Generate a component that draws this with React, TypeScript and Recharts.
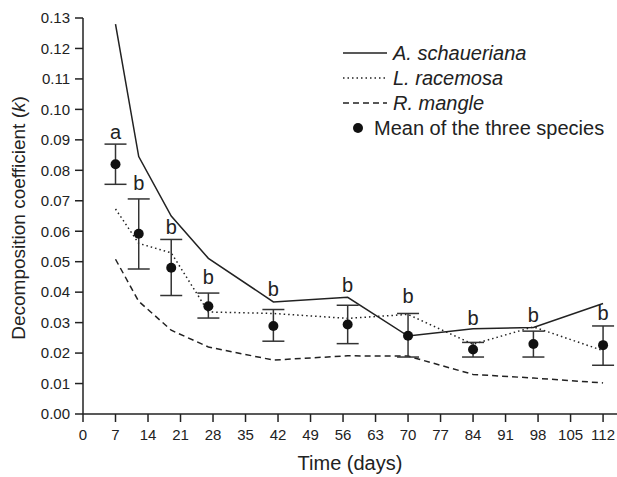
import React from "react";
import {
  ComposedChart,
  Line,
  Scatter,
  ErrorBar,
  XAxis,
  YAxis,
  Label,
} from "recharts";

const days = [7, 12, 19, 27, 41, 57, 70, 84, 97, 112];
const schaueriana = [0.128, 0.0845, 0.065, 0.0511, 0.0368, 0.0383, 0.0256, 0.028, 0.0284, 0.0363];
const racemosa = [0.0673, 0.056, 0.0529, 0.0335, 0.033, 0.0314, 0.0327, 0.0229, 0.0286, 0.0208];
const mangle = [0.0508, 0.037, 0.0275, 0.022, 0.0177, 0.0191, 0.019, 0.013, 0.0118, 0.0102];
const meanK = [0.082, 0.0592, 0.048, 0.0354, 0.0289, 0.0294, 0.0257, 0.0212, 0.023, 0.0226];
const meanLow = [0.0754, 0.0476, 0.0389, 0.0315, 0.0239, 0.0231, 0.0187, 0.0187, 0.0187, 0.016];
const meanHigh = [0.0886, 0.0706, 0.0573, 0.0397, 0.0343, 0.0357, 0.033, 0.0235, 0.0272, 0.0289];
const letters = ["a", "b", "b", "b", "b", "b", "b", "b", "b", "b"];
const letterY = [0.0903, 0.0735, 0.059, 0.0427, 0.0387, 0.0399, 0.0366, 0.0292, 0.0303, 0.0308];

const xTicks = [0, 7, 14, 21, 28, 35, 42, 49, 56, 63, 70, 77, 84, 91, 98, 105, 112];
const yTicks = [0, 0.01, 0.02, 0.03, 0.04, 0.05, 0.06, 0.07, 0.08, 0.09, 0.1, 0.11, 0.12, 0.13];

const data = days.map((day, i) => ({
  day,
  schaueriana: schaueriana[i],
  racemosa: racemosa[i],
  mangle: mangle[i],
  mean: meanK[i],
  err: [meanK[i] - meanLow[i], meanHigh[i] - meanK[i]],
  letter: letters[i],
  letterY: letterY[i],
}));

const FONT = "'Liberation Sans', Arial, sans-serif";
const INK = "#222";

function MeanDot(props: any) {
  const { cx, cy } = props;
  if (cx == null || cy == null) return null;
  return <circle cx={cx} cy={cy} r={5} fill="#111" />;
}

function LetterMark(props: any) {
  const { cx, cy, payload } = props;
  if (cx == null || cy == null) return null;
  return (
    <text x={cx} y={cy} textAnchor="middle" fontSize={20} fontFamily={FONT} fill={INK}>
      {payload.letter}
    </text>
  );
}

function YTitle(props: any) {
  const { viewBox } = props;
  const cy = viewBox.y + viewBox.height / 2 + 2;
  return (
    <text
      x={18}
      y={cy}
      transform={`rotate(-90, 18, ${cy})`}
      textAnchor="middle"
      dominantBaseline="central"
      fontSize={19}
      fontFamily={FONT}
      fill={INK}
    >
      Decomposition coefficient (<tspan fontStyle="italic">k</tspan>)
    </text>
  );
}

// legend drawn by hand, the recharts Legend reserves space below the plot
function SpeciesLegend() {
  const rows = [
    { name: "A. schaueriana", dash: undefined },
    { name: "L. racemosa", dash: "1.5 3" },
    { name: "R. mangle", dash: "6 4" },
  ];
  return (
    <svg width={277} height={100} style={{ position: "absolute", top: 41, left: 340 }}>
      {rows.map((r, i) => (
        <g key={r.name}>
          <line x1={3} x2={47} y1={12 + i * 25} y2={12 + i * 25} stroke={INK} strokeWidth={1.4} strokeDasharray={r.dash} />
          <text x={53} y={12 + i * 25} dominantBaseline="central" fontSize={20} fontStyle="italic" fontFamily={FONT} fill={INK}>
            {r.name}
          </text>
        </g>
      ))}
      <circle cx={18} cy={87} r={5} fill="#111" />
      <text x={34} y={87} dominantBaseline="central" fontSize={20} fontFamily={FONT} fill={INK}>
        Mean of the three species
      </text>
    </svg>
  );
}

export default function App() {
  return (
    <div style={{ position: "absolute", left: 0, top: 0, width: 617, height: 477, background: "#fff" }}>
      <ComposedChart
        width={617}
        height={477}
        data={data}
        margin={{ top: 18, right: 0, bottom: 0, left: 0 }}
      >
        <XAxis
          type="number"
          dataKey="day"
          domain={[0, 115]}
          ticks={xTicks}
          allowDataOverflow
          height={63}
          tickSize={8}
          tickMargin={7}
          stroke={INK}
          strokeWidth={1.5}
          tick={{ fontSize: 15, fill: INK, fontFamily: FONT }}
        >
          <Label
            value="Time (days)"
            position="insideBottom"
            offset={7}
            style={{ fontSize: 20, fill: INK, fontFamily: FONT }}
          />
        </XAxis>
        <YAxis
          type="number"
          domain={[0, 0.13]}
          ticks={yTicks}
          width={83}
          tickSize={8}
          tickMargin={5}
          stroke={INK}
          strokeWidth={1.5}
          tickFormatter={(v: number) => v.toFixed(2)}
          tick={{ fontSize: 15, fill: INK, fontFamily: FONT }}
        >
          <Label content={YTitle} />
        </YAxis>
        <Line dataKey="schaueriana" stroke={INK} strokeWidth={1.5} dot={false} isAnimationActive={false} />
        <Line dataKey="racemosa" stroke={INK} strokeWidth={1.5} strokeDasharray="1.5 3" dot={false} isAnimationActive={false} />
        <Line dataKey="mangle" stroke={INK} strokeWidth={1.5} strokeDasharray="6 4" dot={false} isAnimationActive={false} />
        <Scatter dataKey="mean" shape={MeanDot} isAnimationActive={false}>
          <ErrorBar dataKey="err" direction="y" width={11} stroke="#333" strokeWidth={1.5} />
        </Scatter>
        <Scatter dataKey="letterY" shape={LetterMark} isAnimationActive={false} />
      </ComposedChart>
      <SpeciesLegend />
    </div>
  );
}
